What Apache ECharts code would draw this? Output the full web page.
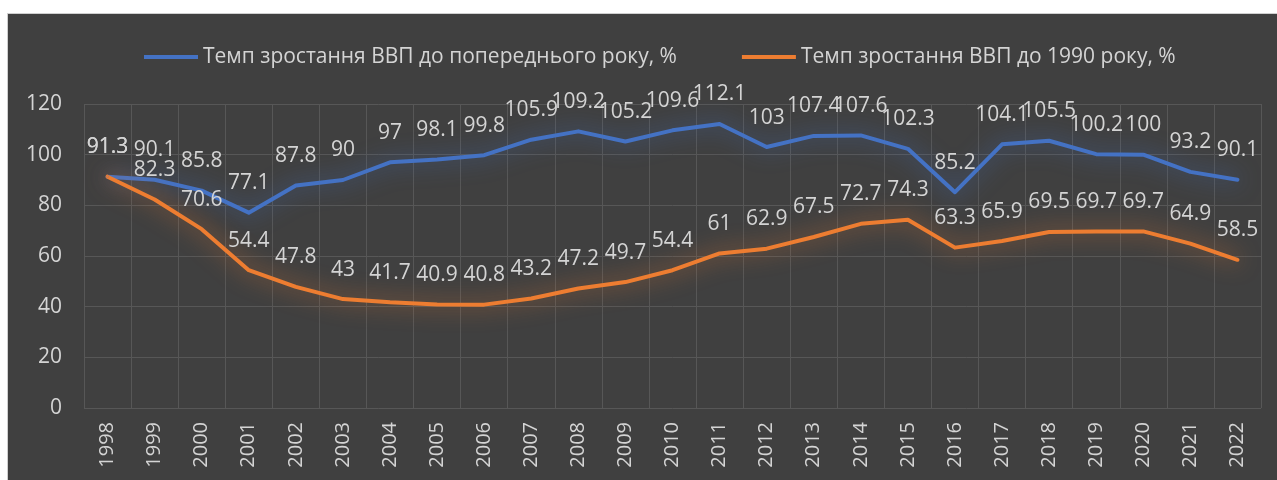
<!DOCTYPE html>
<html>
<head>
<meta charset="utf-8">
<script src="https://cdn.jsdelivr.net/npm/echarts@6/dist/echarts.min.js"></script>
<style>
html,body{margin:0;padding:0;background:#fff;width:1277px;height:480px;overflow:hidden;}
#bg{position:absolute;left:7px;top:13px;width:1272px;height:470px;background:#404040;border:1px solid #cfcfcf;box-sizing:border-box;}
#chart{position:absolute;left:0;top:0;width:1277px;height:480px;}
</style>
</head>
<body>
<div id="bg"></div>
<div id="chart"></div>
<script>
const years = ['1998','1999','2000','2001','2002','2003','2004','2005','2006','2007','2008','2009','2010','2011','2012','2013','2014','2015','2016','2017','2018','2019','2020','2021','2022'];
const prevYear = [91.3,90.1,85.8,77.1,87.8,90,97,98.1,99.8,105.9,109.2,105.2,109.6,112.1,103,107.4,107.6,102.3,85.2,104.1,105.5,100.2,100,93.2,90.1];
const vs1990 = [91.3,82.3,70.6,54.4,47.8,43,41.7,40.9,40.8,43.2,47.2,49.7,54.4,61,62.9,67.5,72.7,74.3,63.3,65.9,69.5,69.7,69.7,64.9,58.5];
const seriesNames = ['Темп зростання ВВП до попереднього року, %','Темп зростання ВВП до 1990 року, %'];

const FONT = 'Open Sans';
const TXT = '#d4d4d4';
const chart = echarts.init(document.getElementById('chart'));
function mk(name, data, color, glow){
  return {
    name: name, type: 'line', data: data,
    symbol: 'circle', symbolSize: 2, showSymbol: true,
    lineStyle: {color: color, width: 4, cap: 'round', join: 'round', shadowColor: glow, shadowBlur: 22},
    itemStyle: {color: color},
    label: {show: true, position: 'top', distance: 18, color: TXT, fontFamily: FONT, fontSize: 21},
    emphasis: {disabled: true}
  };
}
chart.setOption({
  backgroundColor: 'transparent',
  animation: false,
  legend: {
    left: 139, top: 40, itemWidth: 54, itemHeight: 4, itemGap: 65, icon: 'rect',
    textStyle: {color: TXT, fontFamily: FONT, fontSize: 21, lineHeight: 24},
    data: seriesNames
  },
  grid: {left: 84, right: 16, top: 104, bottom: 72, containLabel: false},
  xAxis: {
    type: 'category', data: years, boundaryGap: true,
    axisLine: {show: false}, axisTick: {show: false},
    axisLabel: {rotate: 90, color: TXT, fontFamily: FONT, fontSize: 20, margin: 14},
    splitLine: {show: true, lineStyle: {color: '#575757', width: 1}}
  },
  yAxis: {
    type: 'value', min: 0, max: 120, interval: 20,
    axisLine: {show: false}, axisTick: {show: false},
    axisLabel: {color: TXT, fontFamily: FONT, fontSize: 21, margin: 22},
    splitLine: {lineStyle: {color: '#575757', width: 1}}
  },
  series: [
    mk(seriesNames[0], prevYear, '#4472C4', 'rgba(68,114,196,0.8)'),
    mk(seriesNames[1], vs1990, '#ED7D31', 'rgba(237,125,49,0.8)')
  ]
});
</script>
</body>
</html>
